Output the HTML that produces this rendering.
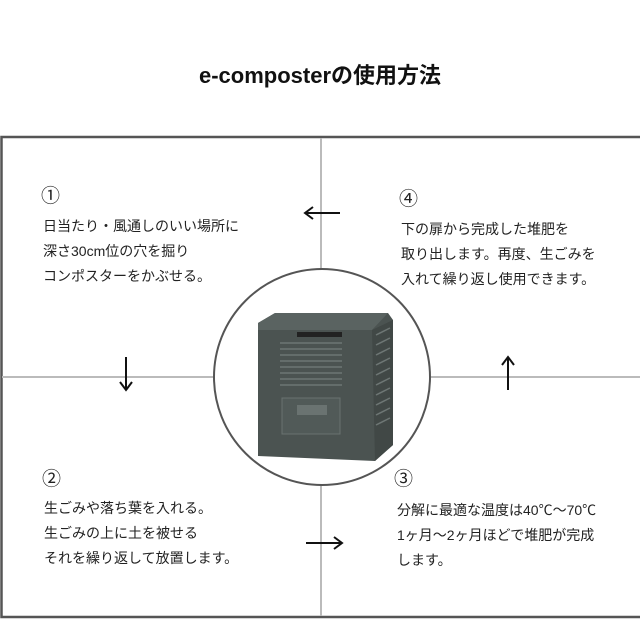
<!DOCTYPE html>
<html><head><meta charset="utf-8"><style>
body{margin:0;width:640px;height:640px;background:#fff;position:relative;overflow:hidden;font-family:"Liberation Sans","Noto Sans CJK JP",sans-serif;color:#222}
.t{position:absolute;font-size:14px;line-height:25px;white-space:nowrap;letter-spacing:0}
.n{position:absolute;font-size:19px}
.title{position:absolute;top:58px;left:0;width:640px;text-align:center;font-weight:bold;font-size:22px;color:#111}
</style></head><body>
<div class="title">e-composterの使用方法</div>
<svg width="640" height="640" style="position:absolute;left:0;top:0">
<rect x="1.5" y="137" width="645" height="480" fill="none" stroke="#555" stroke-width="2.5"/>
<line x1="321" y1="138" x2="321" y2="616" stroke="#bbb" stroke-width="2"/>
<line x1="2" y1="377" x2="640" y2="377" stroke="#bbb" stroke-width="2"/>
<circle cx="322" cy="377" r="108" fill="#fff" stroke="#555" stroke-width="2"/>
<g stroke="#111" stroke-width="2" fill="none">
<path d="M305 213H340M313 207l-8 6 8 6"/>
<path d="M126 357V390M120 382l6 8 6-8"/>
<path d="M508 390V357M502 365l6-8 6 8"/>
<path d="M306 543H342M334 537l8 6-8 6"/>
</g>
<polygon points="258,323 275,313 388,313 393,320 393,445 375,461 258,456" fill="#4b5351"/>
<polygon points="258,323 275,313 388,313 372,330 258,330" fill="#5a6361"/>
<polygon points="372,330 393,320 393,445 375,461" fill="#414846"/>
<rect x="297" y="332" width="45" height="5" fill="#222"/>
<g stroke="#6d7674" stroke-width="1.5">
<line x1="280" y1="343" x2="342" y2="343"/><line x1="280" y1="349" x2="342" y2="349"/><line x1="280" y1="355" x2="342" y2="355"/><line x1="280" y1="361" x2="342" y2="361"/><line x1="280" y1="367" x2="342" y2="367"/><line x1="280" y1="373" x2="342" y2="373"/><line x1="280" y1="379" x2="342" y2="379"/><line x1="280" y1="385" x2="342" y2="385"/>
<line x1="376" y1="335" x2="390" y2="328"/><line x1="376" y1="345" x2="390" y2="338"/><line x1="376" y1="355" x2="390" y2="348"/><line x1="376" y1="365" x2="390" y2="358"/><line x1="376" y1="375" x2="390" y2="368"/><line x1="376" y1="385" x2="390" y2="378"/><line x1="376" y1="395" x2="390" y2="388"/><line x1="376" y1="405" x2="390" y2="398"/><line x1="376" y1="415" x2="390" y2="408"/><line x1="376" y1="425" x2="390" y2="418"/>
</g>
<rect x="282" y="398" width="58" height="36" fill="#515a58" stroke="#697270"/>
<rect x="297" y="405" width="30" height="10" fill="#6a7371"/>
</svg>
<div class="n" style="left:41px;top:181px">①</div>
<div class="t" style="left:43px;top:214px">日当たり・風通しのいい場所に<br>深さ30cm位の穴を掘り<br>コンポスターをかぶせる。</div>
<div class="n" style="left:399px;top:184px">④</div>
<div class="t" style="left:401px;top:217px">下の扉から完成した堆肥を<br>取り出します。再度、生ごみを<br>入れて繰り返し使用できます。</div>
<div class="n" style="left:42px;top:464px">②</div>
<div class="t" style="left:44px;top:496px">生ごみや落ち葉を入れる。<br>生ごみの上に土を被せる<br>それを繰り返して放置します。</div>
<div class="n" style="left:394px;top:464px">③</div>
<div class="t" style="left:397px;top:498px">分解に最適な温度は40℃～70℃<br>1ヶ月～2ヶ月ほどで堆肥が完成<br>します。</div>
</body></html>
